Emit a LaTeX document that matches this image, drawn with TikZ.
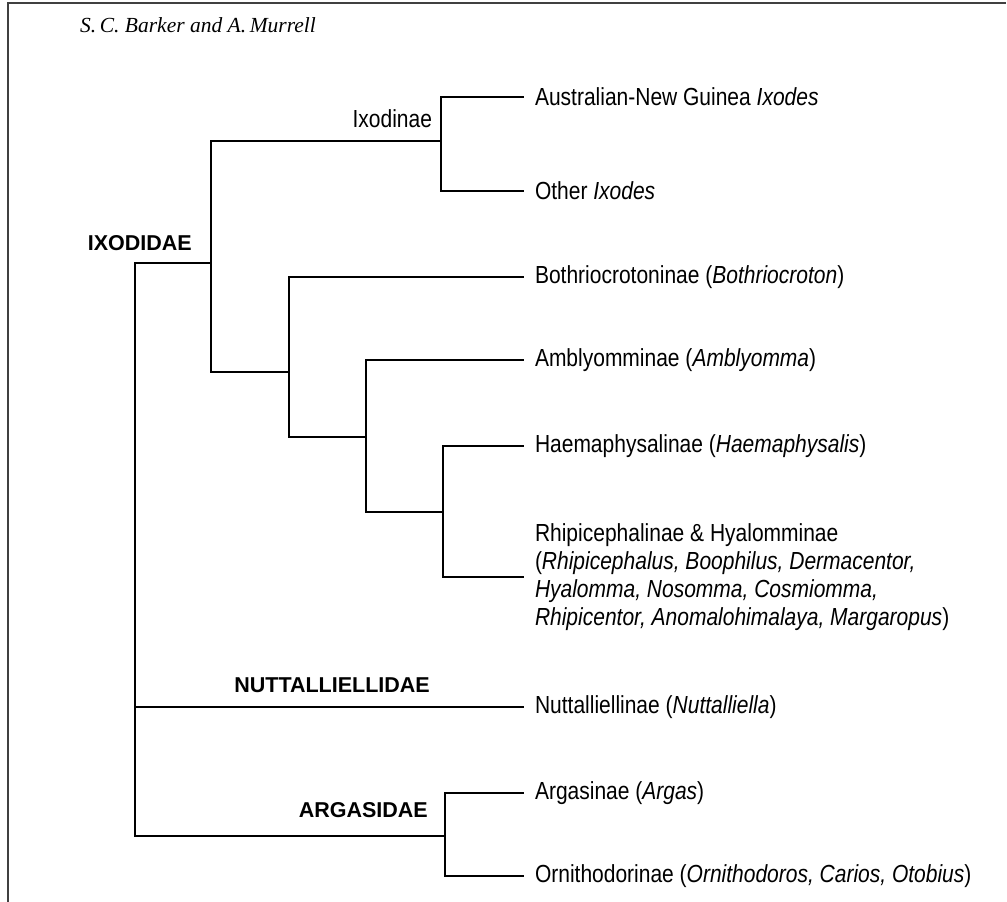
\documentclass[tikz,border=0pt]{standalone}
\usepackage{fontspec}
\setmainfont{Liberation Sans}
\newfontfamily\leaffont[FakeStretch=0.85]{Liberation Sans}
\newfontfamily\authorfont{Liberation Serif}
\usepackage{tikz}
\usetikzlibrary{positioning, calc}

\begin{document}
\begin{tikzpicture}[
    x=1pt, y=-1pt,
    branch/.style={draw, line width=2.2pt, line cap=rect},
    leaf/.style={anchor=west, inner xsep=12pt, inner ysep=1pt, outer sep=0pt, align=left, font=\leaffont\fontsize{24.7}{28}\selectfont},
    clade/.style={anchor=east, inner sep=0pt, font=\bfseries\fontsize{21.5}{26}\selectfont},
    frame/.style={draw=black!75, line width=2pt}
]
    \useasboundingbox (0,0) rectangle (1007,902);
    % page frame and running head
    \coordinate (fbl) at (8,902);
    \coordinate (ftl) at (8,3);
    \coordinate (ftr) at (1006,3);
    \draw[frame] (fbl) -- (ftl) -- (ftr);
    \node[anchor=base west, inner sep=0pt, font=\authorfont\itshape\fontsize{21.5}{25}\selectfont] (head) at (80,32) {S.\,C. Barker and A.\,Murrell};

    % tips
    \node[leaf] (aus) at (523,97) {Australian-New Guinea \textit{Ixodes}};
    \node[leaf] (oth) at (523,191) {Other \textit{Ixodes}};
    \node[leaf] (both) at (523,277) {Bothriocrotoninae (\textit{Bothriocroton})};
    \node[leaf] (amb) at (523,360) {Amblyomminae (\textit{Amblyomma})};
    \node[leaf] (hae) at (523,446) {Haemaphysalinae (\textit{Haemaphysalis})};
    \node[leaf] (rhi) at (523,577) {Rhipicephalinae \& Hyalomminae\\(\textit{Rhipicephalus, Boophilus, Dermacentor,}\\\textit{Hyalomma, Nosomma, Cosmiomma,}\\\textit{Rhipicentor, Anomalohimalaya, Margaropus})};
    \node[leaf] (nut) at (523,707) {Nuttalliellinae (\textit{Nuttalliella})};
    \node[leaf] (argas) at (523,793) {Argasinae (\textit{Argas})};
    \node[leaf] (orn) at (523,876) {Ornithodorinae (\textit{Ornithodoros, Carios, Otobius})};

    % internal nodes
    \coordinate (root) at (135,707);
    \coordinate (ixd) at (211,263);
    \coordinate (ixn) at (441,141);
    \coordinate (b1) at (289,372);
    \coordinate (b2) at (366,437);
    \coordinate (b3) at (443,512);
    \coordinate (arg) at (445,836);

    % clade labels
    \node[clade] (lixd) at (192,243) {IXODIDAE};
    \node[clade] (lnut) at (430,685) {NUTTALLIELLIDAE};
    \node[clade] (larg) at (428,810) {ARGASIDAE};
    \node[leaf, anchor=east, inner sep=0pt] (lixn) at (432,119) {Ixodinae};

    % branches
    \draw[branch] (root) |- (ixd);
    \draw[branch] (root) |- (arg);
    \draw[branch] (root) -- (nut.west);
    \draw[branch] (ixd) |- (ixn);
    \draw[branch] (ixd) |- (b1);
    \draw[branch] (ixn) |- (aus.west);
    \draw[branch] (ixn) |- (oth.west);
    \draw[branch] (b1) |- (both.west);
    \draw[branch] (b1) |- (b2);
    \draw[branch] (b2) |- (amb.west);
    \draw[branch] (b2) |- (b3);
    \draw[branch] (b3) |- (hae.west);
    \draw[branch] (b3) |- (rhi.west);
    \draw[branch] (arg) |- (argas.west);
    \draw[branch] (arg) |- (orn.west);
\end{tikzpicture}
\end{document}
